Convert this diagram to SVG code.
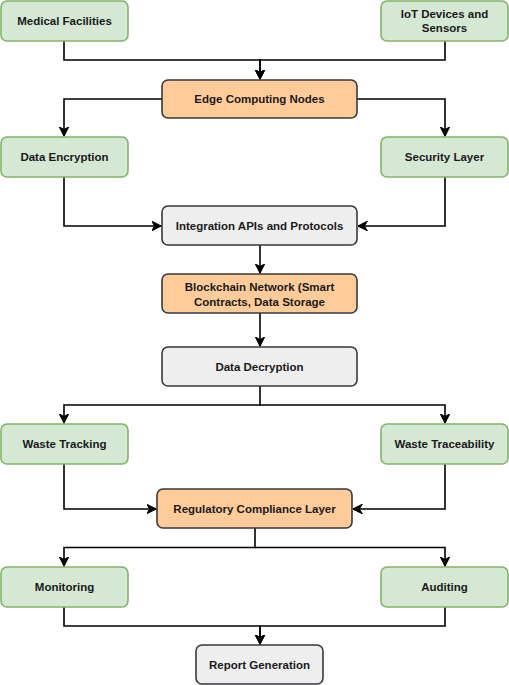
<svg xmlns="http://www.w3.org/2000/svg" width="509" height="685" viewBox="0 0 509 685">
<style>
.g{fill:#d5e8d4;stroke:#82b366;stroke-width:1.6}
.o{fill:#ffcc99;stroke:#36393d;stroke-width:1.6}
.y{fill:#eeeeee;stroke:#36393d;stroke-width:1.6}
text{font-family:"Liberation Sans",Arial,Helvetica,sans-serif;font-weight:bold;font-size:11.5px;fill:#1a1a1a;text-anchor:middle}
.c path{fill:none;stroke:#000;stroke-width:1.6;marker-end:url(#a)}
</style>
<defs>
<marker id="a" viewBox="0 0 10 10" refX="9.5" refY="5" markerWidth="10" markerHeight="10" markerUnits="userSpaceOnUse" orient="auto">
<path d="M0,0 L10,5 L0,10 L3,5 Z" fill="#000" stroke="#000" stroke-width="0.8"/>
</marker>
</defs>
<g id="connectors" class="c">
<path d="M64,41 V60 H260 V79"/>
<path d="M445,41 V60 H260 V79"/>
<path d="M162,99 H64 V136"/>
<path d="M357,99 H445 V136"/>
<path d="M64,177 V226 H161"/>
<path d="M445,177 V226 H358"/>
<path d="M260,245 V273"/>
<path d="M260,313 V346"/>
<path d="M260,386 V405 H64 V423"/>
<path d="M260,405 H445 V423"/>
<path d="M64,464 V509 H156"/>
<path d="M445,464 V509 H353"/>
<path d="M255,528 V547.5 H64 V566"/>
<path d="M255,547.5 H445 V566"/>
<path d="M64,607 V626 H260 V644"/>
<path d="M445,607 V626 H260 V644"/>
</g>
<g id="medical"><rect class="g" x="1" y="1" width="127" height="40" rx="6"/><text x="64.5" y="25">Medical Facilities</text></g>
<g id="iot"><rect class="g" x="381" y="1" width="127" height="40" rx="6"/><text x="444.5" y="18">IoT Devices and</text><text x="444.5" y="32">Sensors</text></g>
<g id="edge"><rect class="o" x="162" y="80" width="195" height="38" rx="6"/><text x="259.5" y="103">Edge Computing Nodes</text></g>
<g id="encryption"><rect class="g" x="1" y="137" width="127" height="40" rx="6"/><text x="64.5" y="161">Data Encryption</text></g>
<g id="security"><rect class="g" x="381" y="137" width="127" height="40" rx="6"/><text x="444.5" y="161">Security Layer</text></g>
<g id="integration"><rect class="y" x="162" y="206" width="195" height="39" rx="6"/><text x="259.5" y="230">Integration APIs and Protocols</text></g>
<g id="blockchain"><rect class="o" x="162" y="274" width="195" height="39" rx="6"/><text x="259.5" y="291">Blockchain Network (Smart</text><text x="259.5" y="305.5">Contracts, Data Storage</text></g>
<g id="decryption"><rect class="y" x="162" y="347" width="195" height="39" rx="6"/><text x="259.5" y="370.5">Data Decryption</text></g>
<g id="tracking"><rect class="g" x="1" y="424" width="127" height="40" rx="6"/><text x="64.5" y="448">Waste Tracking</text></g>
<g id="traceability"><rect class="g" x="381" y="424" width="127" height="40" rx="6"/><text x="444.5" y="448">Waste Traceability</text></g>
<g id="regulatory"><rect class="o" x="157" y="489" width="195" height="39" rx="6"/><text x="254.5" y="513">Regulatory Compliance Layer</text></g>
<g id="monitoring"><rect class="g" x="1" y="567" width="127" height="40" rx="6"/><text x="64.5" y="591">Monitoring</text></g>
<g id="auditing"><rect class="g" x="381" y="567" width="127" height="40" rx="6"/><text x="444.5" y="591">Auditing</text></g>
<g id="report"><rect class="y" x="196" y="645" width="127" height="39" rx="6"/><text x="259.5" y="669">Report Generation</text></g>
</svg>
